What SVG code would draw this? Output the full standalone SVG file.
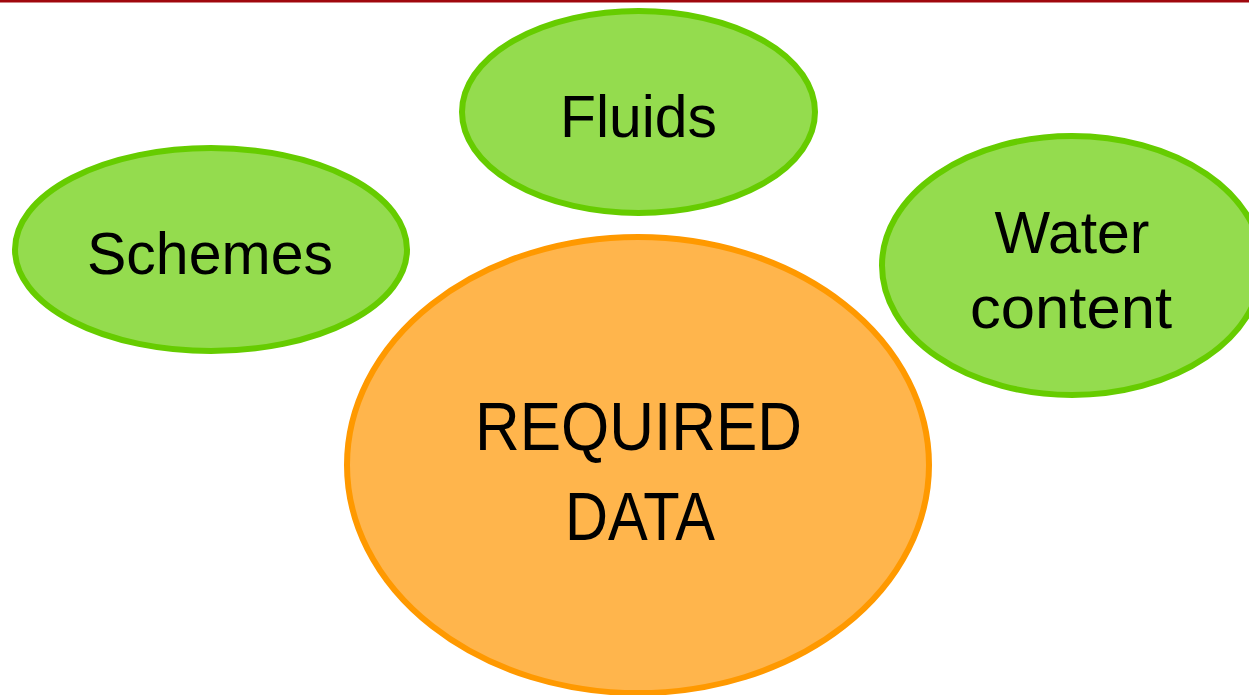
<svg xmlns="http://www.w3.org/2000/svg" width="1249" height="695" viewBox="0 0 1249 695">
<style>
.g{fill:#94DC4E;stroke:#66CC00;stroke-width:6}
.o{fill:#FFB54C;stroke:#FF9900;stroke-width:6}
text{font-family:"Liberation Sans",Arial,sans-serif;fill:#000;text-anchor:middle}
.s{font-size:60px}
.b{font-size:68px}
</style>
<rect x="0" y="0" width="1249" height="695" fill="#fff"/>
<rect x="0" y="0" width="1249" height="2.5" fill="#A0080E"/>
<g id="connectors"></g>
<g id="node-fluids">
<ellipse class="g" cx="638.5" cy="112" rx="176.5" ry="101"/>
<text class="s" x="638.5" y="137" textLength="157" lengthAdjust="spacingAndGlyphs">Fluids</text>
</g>
<g id="node-schemes">
<ellipse class="g" cx="211" cy="249.5" rx="196" ry="101.5"/>
<text class="s" x="210" y="274" textLength="246" lengthAdjust="spacingAndGlyphs">Schemes</text>
</g>
<g id="node-water">
<ellipse class="g" cx="1072" cy="265.5" rx="190" ry="129.5"/>
<text class="s" x="1072" y="253" textLength="155" lengthAdjust="spacingAndGlyphs">Water</text>
<text class="s" x="1071" y="328" textLength="202" lengthAdjust="spacingAndGlyphs">content</text>
</g>
<g id="node-required">
<ellipse class="o" cx="638" cy="465" rx="291" ry="228"/>
<text class="b" x="638.5" y="450" textLength="327" lengthAdjust="spacingAndGlyphs">REQUIRED</text>
<text class="b" x="640" y="540" textLength="150" lengthAdjust="spacingAndGlyphs">DATA</text>
</g>
</svg>
